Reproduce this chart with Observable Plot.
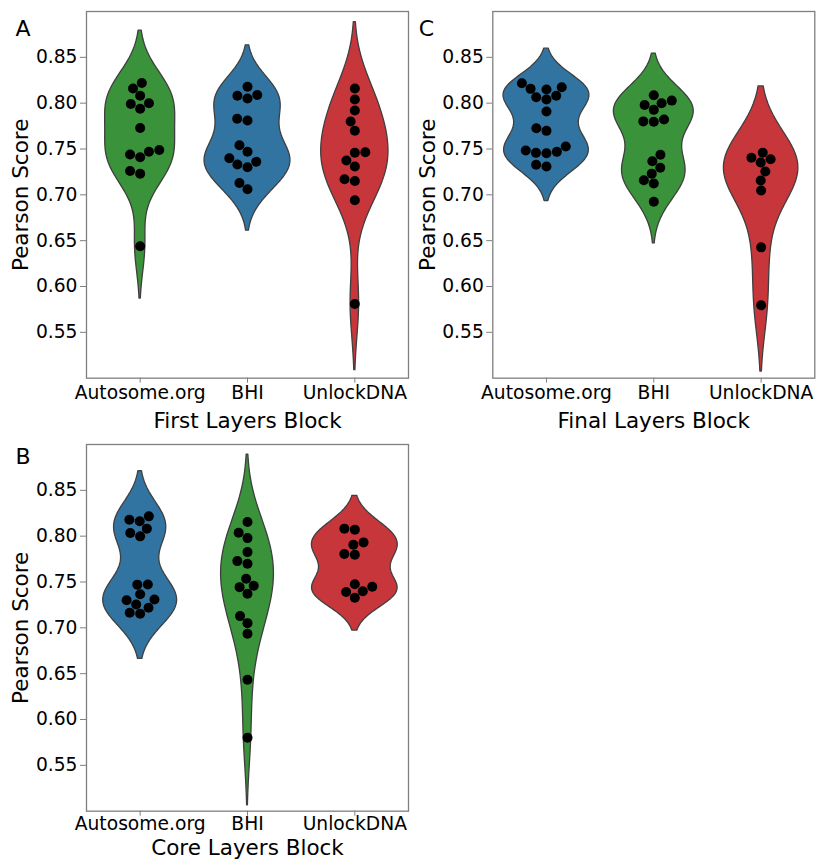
<!DOCTYPE html>
<html>
<head>
<meta charset="utf-8">
<script src="https://cdn.jsdelivr.net/npm/d3@7"></script>
<script src="https://cdn.jsdelivr.net/npm/@observablehq/plot@0.6"></script>
<style>
  body { margin: 0; background: #fff; }
  #fig { position: relative; width: 817px; height: 860px; overflow: hidden; background: #fff; }
  .panel { position: absolute; }
  .panel svg [aria-label="x-axis tick"], .panel svg [aria-label="y-axis tick"], .panel svg .tick line { stroke: #7f7f7f; }
</style>
</head>
<body>
<div id="fig"></div>
<script>
// ---- data ----
const categories = ["Autosome.org", "BHI", "UnlockDNA"];
const yTicks = [0.55, 0.60, 0.65, 0.70, 0.75, 0.80, 0.85];

// Panel A — First Layers Block
const firstAutosome = [0.822, 0.816, 0.808, 0.799, 0.800, 0.794, 0.773, 0.744, 0.741, 0.747, 0.749, 0.726, 0.723, 0.644];
const firstBHI      = [0.818, 0.808, 0.805, 0.809, 0.783, 0.781, 0.754, 0.747, 0.733, 0.730, 0.736, 0.740, 0.713, 0.706];
const firstUnlock   = [0.816, 0.804, 0.792, 0.780, 0.770, 0.746, 0.7465, 0.7375, 0.731, 0.717, 0.715, 0.694, 0.581];

// Panel C — Final Layers Block
const finalAutosome = [0.8156, 0.815, 0.8173, 0.8217, 0.8064, 0.804, 0.808, 0.791, 0.7727, 0.7698, 0.7484, 0.7458, 0.7454, 0.7469, 0.7527, 0.7328, 0.731];
const finalBHI      = [0.8086, 0.798, 0.800, 0.8028, 0.7927, 0.7801, 0.7797, 0.7821, 0.7437, 0.7367, 0.7295, 0.7231, 0.7159, 0.7124, 0.6925];
const finalUnlock   = [0.746, 0.7389, 0.7353, 0.7404, 0.7255, 0.7157, 0.7048, 0.6427, 0.5795];

// Panel B — Core Layers Block
const coreAutosome = [0.818, 0.8162, 0.8216, 0.8034, 0.8082, 0.7998, 0.7471, 0.7473, 0.7366, 0.730, 0.7255, 0.731, 0.7165, 0.7154, 0.722];
const coreBHI      = [0.8154, 0.8038, 0.7979, 0.7826, 0.7728, 0.770, 0.7536, 0.7444, 0.746, 0.7372, 0.7128, 0.7051, 0.6936, 0.6433, 0.580];
const coreUnlock   = [0.8082, 0.8071, 0.7906, 0.7932, 0.7805, 0.7798, 0.7475, 0.739, 0.740, 0.7448, 0.7329];

// ---- styling ----
const BLUE = "#3274a1", GREEN = "#3a923a", RED = "#c6363a";
const EDGE = "#3f3f3f";
const DOT_R = 5;

const panels = [
  {letter: "A", xlabel: "First Layers Block", groups: [firstAutosome, firstBHI, firstUnlock], colors: [GREEN, BLUE, RED],
   left: 0, top: 0, width: 410, height: 440, ml: 86, mr: 2, mb: 62.33, tickPad: 3, titleDy: 43, letterDx: -71, letterDy: 17},
  {letter: "C", xlabel: "Final Layers Block", groups: [finalAutosome, finalBHI, finalUnlock], colors: [BLUE, GREEN, RED],
   left: 410, top: 0, width: 407, height: 440, ml: 82.3, mr: 2.7, mb: 62.33, tickPad: 3, titleDy: 43, letterDx: -74, letterDy: 17},
  {letter: "B", xlabel: "Core Layers Block", groups: [coreAutosome, coreBHI, coreUnlock], colors: [BLUE, GREEN, RED],
   left: 0, top: 433.2, width: 410, height: 426.8, ml: 86, mr: 2, mb: 49.13, tickPad: 1, titleDy: 37, letterDx: -71, letterDy: 12.8}
];
const MT = 11;
const Y_DOMAIN = [0.5, 0.9];

// Gaussian KDE, Scott bandwidth, cut = 2, 100 grid points (as seaborn's violinplot)
function kde(values) {
  const n = values.length;
  const bw = d3.deviation(values) * Math.pow(n, -0.2);
  const lo = d3.min(values) - 2 * bw, hi = d3.max(values) + 2 * bw;
  const norm = 1 / (bw * Math.sqrt(2 * Math.PI));
  return d3.range(100).map(k => {
    const y = lo + (hi - lo) * k / 99;
    return {y, d: d3.mean(values, v => Math.exp(-0.5 * ((y - v) / bw) ** 2)) * norm};
  });
}

// seaborn-style beeswarm in pixel space; returns pixel offsets
function swarm(values, pxPerUnit, r) {
  const order = d3.range(values.length).sort((a, b) => values[a] - values[b]);
  const placed = [];
  for (const idx of order) {
    const y = values[idx] * pxPerUnit;
    if (!placed.length) { placed.push({x: 0, y, idx}); continue; }
    const neighbors = [];
    for (let j = placed.length - 1; j >= 0; j--) {
      if (y - placed[j].y < 2 * r) neighbors.push(placed[j]); else break;
    }
    neighbors.reverse();
    const cands = [0];
    let leftFirst = true;
    for (const nb of neighbors) {
      const dy = y - nb.y;
      const dx = Math.sqrt(Math.max(4 * r * r - dy * dy, 0)) * 1.05;
      if (leftFirst) cands.push(nb.x - dx, nb.x + dx); else cands.push(nb.x + dx, nb.x - dx);
      leftFirst = !leftFirst;
    }
    const sorted = cands.map((c, k) => [Math.abs(c), k, c])
      .sort((a, b) => (a[0] - b[0]) || (a[1] - b[1])).map(a => a[2]);
    let xNew = sorted[0];
    if (neighbors.length) {
      for (const c of sorted) {
        if (neighbors.every(nb => (nb.x - c) ** 2 + (nb.y - y) ** 2 >= 4 * r * r)) { xNew = c; break; }
      }
    }
    placed.push({x: xNew, y, idx});
  }
  const off = new Array(values.length);
  for (const p of placed) off[p.idx] = p.x;
  return off;
}

const fig = document.getElementById("fig");

for (const P of panels) {
  const frameW = P.width - P.ml - P.mr;
  const frameH = P.height - MT - P.mb;
  const pxPerUnit = frameH / (Y_DOMAIN[1] - Y_DOMAIN[0]);
  const bandPx = frameW / 3;

  const dens = P.groups.map(kde);
  const maxD = d3.max(dens, g => d3.max(g, p => p.d));

  const violinMarks = dens.map((g, i) => Plot.areaX(g, {
    y: "y",
    x1: p => i - p.d / maxD * 0.4,
    x2: p => i + p.d / maxD * 0.4,
    fill: P.colors[i], stroke: EDGE, strokeWidth: 1.3, curve: "linear"
  }));

  const points = [];
  P.groups.forEach((vals, i) => {
    const off = swarm(vals, pxPerUnit, DOT_R);
    vals.forEach((v, k) => points.push({i, v, off: off[k]}));
  });

  const plot = Plot.plot({
    width: P.width, height: P.height,
    marginLeft: P.ml, marginRight: P.mr, marginTop: MT, marginBottom: P.mb,
    style: {fontFamily: "DejaVu Sans", fontSize: "18.7px", color: "#000", background: "white", overflow: "visible"},
    x: {domain: [-0.5, 2.5], ticks: [0, 1, 2], tickFormat: i => categories[i], tickSize: 5, tickPadding: P.tickPad, label: null},
    y: {domain: Y_DOMAIN, ticks: yTicks, tickFormat: d3.format(".2f"), tickSize: 6, label: null},
    marks: [
      ...violinMarks,
      Plot.dot(points, {x: d => d.i + d.off / bandPx, y: "v", r: DOT_R, fill: "black", stroke: "none"}),
      Plot.frame({stroke: "#7f7f7f", strokeWidth: 1.3}),
      Plot.text([P.xlabel], {text: d => d, frameAnchor: "bottom", textAnchor: "middle", lineAnchor: "middle", dy: P.titleDy, fontSize: 21.5, fill: "#000"}),
      Plot.text(["Pearson Score"], {text: d => d, frameAnchor: "left", textAnchor: "middle", lineAnchor: "middle", rotate: -90, dx: -65, fontSize: 21.5, fill: "#000"}),
      Plot.text([P.letter], {text: d => d, frameAnchor: "top-left", textAnchor: "start", lineAnchor: "middle", dx: P.letterDx, dy: P.letterDy, fontSize: 22, fill: "#000"})
    ]
  });

  const wrap = document.createElement("div");
  wrap.className = "panel";
  wrap.style.left = P.left + "px";
  wrap.style.top = P.top + "px";
  wrap.style.width = P.width + "px";
  wrap.appendChild(plot);
  fig.appendChild(wrap);
}
</script>
</body>
</html>
